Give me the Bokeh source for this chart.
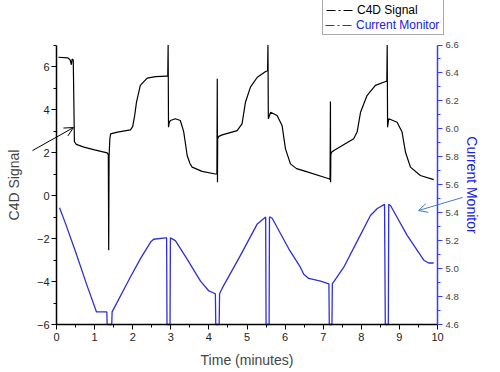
from bokeh.plotting import figure
from bokeh.models import (Range1d, LinearAxis, SingleIntervalTicker, FixedTicker,
                          NumeralTickFormatter, Legend, LegendItem, Arrow, OpenHead)
from bokeh.embed import file_html
from bokeh.resources import INLINE

# ---------------- data ----------------
time_c4d = [0.05, 0.30, 0.36, 0.39, 0.41, 0.44, 0.47, 0.52, 0.72, 1.00, 1.33,
            1.36, 1.37, 1.38, 1.40, 1.42, 1.60, 1.94, 2.00, 2.05, 2.10, 2.20, 2.38, 2.60, 2.90,
            2.92, 2.93, 2.94, 2.96, 2.99, 3.12, 3.25, 3.30, 3.34, 3.43, 3.50, 3.56, 3.82, 4.17,
            4.21, 4.22, 4.225, 4.23, 4.26, 4.35, 4.74, 4.87, 4.96, 5.09, 5.27, 5.49,
            5.54, 5.55, 5.56, 5.62, 5.79, 5.92, 6.01, 6.14, 6.30, 6.54, 7.15,
            7.18, 7.19, 7.195, 7.20, 7.22, 7.28, 7.80, 7.89, 7.98, 8.15, 8.37, 8.64,
            8.67, 8.68, 8.69, 8.72, 8.94, 9.07, 9.16, 9.29, 9.55, 9.90]
c4d_signal = [6.43, 6.40, 6.30, 6.08, 6.35, 6.30, 2.50, 2.38, 2.25, 2.12, 1.98,
              1.90, -2.55, 1.80, 2.64, 2.87, 2.95, 3.05, 3.20, 3.70, 4.34, 5.12, 5.46, 5.53, 5.55,
              5.55, 7.00, 3.18, 3.40, 3.49, 3.57, 3.49, 3.20, 2.95, 1.86, 1.50, 1.32, 1.12, 1.00,
              1.00, 5.43, 0.62, 2.64, 2.75, 2.82, 3.02, 3.33, 4.34, 5.04, 5.50, 5.77,
              5.80, 7.00, 3.57, 3.87, 3.72, 3.26, 2.17, 1.47, 1.25, 1.12, 0.78,
              0.75, 4.37, 0.62, 1.90, 2.01, 2.09, 2.64, 2.95, 3.87, 4.65, 5.12, 5.30,
              5.32, 7.00, 3.18, 3.57, 3.41, 2.95, 2.01, 1.32, 0.93, 0.74]

time_cm = [0.08, 0.24, 0.50, 0.80, 1.05, 1.31, 1.32, 1.33, 1.45, 1.46, 1.94, 2.20, 2.47, 2.55, 2.86,
           2.89, 2.90, 2.98, 2.99, 3.12, 3.40, 3.78, 4.00, 4.17, 4.18, 4.27, 4.28, 4.35, 4.80,
           5.27, 5.49, 5.50, 5.58, 5.59, 5.66, 6.10, 6.40, 6.49, 6.62, 6.93, 7.15, 7.16, 7.23,
           7.24, 7.54, 7.90, 8.24, 8.42, 8.61, 8.63, 8.71, 8.72, 8.77, 9.20, 9.64, 9.77, 9.90]
current_monitor = [5.435, 5.32, 5.12, 4.88, 4.69, 4.69, 4.69, 4.60, 4.60, 4.69, 4.94, 5.07, 5.19, 5.21, 5.22,
                   5.22, 4.60, 4.60, 5.22, 5.20, 5.08, 4.91, 4.84, 4.82, 4.60, 4.60, 4.82, 4.86, 5.08,
                   5.32, 5.37, 4.60, 4.60, 5.37, 5.36, 5.14, 5.01, 4.96, 4.93, 4.91, 4.89, 4.60, 4.60,
                   4.89, 5.01, 5.20, 5.38, 5.43, 5.46, 4.60, 4.60, 5.46, 5.45, 5.24, 5.06, 5.04, 5.04]

cm_ticks = [4.6, 4.8, 5.0, 5.2, 5.4, 5.6, 5.8, 6.0, 6.2, 6.4, 6.6]
cm_minor = [4.7, 4.9, 5.1, 5.3, 5.5, 5.7, 5.9, 6.1, 6.3, 6.5]

x_lim = (0, 10)
c4d_lim = (-6, 7)
cm_lim = (4.6, 6.6)

# annotation arrows (start_x, start_y, end_x, end_y) in time / C4D units
arrow_c4d = [-0.63, 2.09, 0.446, 3.16]
arrow_cm = [10.66, -0.09, 9.50, -0.70]

BLUE = "#2f2fd6"
AXBLUE = "#3b3bff"
ARROWBLUE = "#3f7fc4"
FONT = "Liberation Sans"
NAN = float("nan")

# ---------------- layout (pixels) ----------------
W, H = 498, 370
AX_L, AX_R, AX_T, AX_B = 56.0, 437.0, 44.5, 324.0   # where the axes sit

def extend(lim, lo_px, hi_px, span_px):
    # range that spans the whole canvas while lim sits between lo_px and hi_px
    per = (lim[1] - lim[0]) / span_px
    return Range1d(lim[0] - lo_px * per, lim[1] + hi_px * per)

xr = extend(x_lim, AX_L, W - AX_R, AX_R - AX_L)
yr = extend(c4d_lim, H - AX_B, AX_T, AX_B - AX_T)
cmr = extend(cm_lim, H - AX_B, AX_T, AX_B - AX_T)

p = figure(width=W, height=H, x_range=xr, y_range=yr,
           output_backend="svg", toolbar_location=None,
           min_border=0)
p.extra_y_ranges = {"cm": cmr}
p.outline_line_color = None
p.grid.visible = False

p.line(time_c4d, c4d_signal, color="black", line_width=1.2)
p.line(time_cm, current_monitor, color=BLUE, line_width=1.3, y_range_name="cm")

def style(ax, color, tick_color):
    ax.axis_line_color = color
    ax.axis_line_width = 1.5
    ax.major_tick_line_color = color
    ax.minor_tick_line_color = color
    ax.major_tick_out = 5
    ax.major_tick_in = 0
    ax.minor_tick_out = 3
    ax.minor_tick_in = 0
    ax.major_label_text_font = FONT
    ax.major_label_text_color = tick_color
    ax.axis_label_text_font = FONT
    ax.axis_label_text_font_style = "normal"
    ax.axis_label_text_font_size = "14px"

xa = p.xaxis[0]
xa.ticker = SingleIntervalTicker(interval=1, num_minor_ticks=2)
xa.fixed_location = c4d_lim[0]
xa.bounds = x_lim
xa.axis_label = "Time (minutes)"
style(xa, "black", "#222222")
xa.major_label_text_font_size = "11px"
xa.major_label_standoff = 3
xa.axis_label_standoff = 8

ya = p.yaxis[0]
ya.ticker = SingleIntervalTicker(interval=2, num_minor_ticks=2)
ya.fixed_location = x_lim[0]
ya.bounds = c4d_lim
ya.axis_label = "C4D Signal"
style(ya, "black", "#222222")
ya.major_label_text_font_size = "11px"
ya.major_label_standoff = 2
ya.axis_label_standoff = 12

ra = LinearAxis(y_range_name="cm", ticker=FixedTicker(ticks=cm_ticks, minor_ticks=cm_minor),
                formatter=NumeralTickFormatter(format="0.0"), axis_label="Current Monitor",
                fixed_location=x_lim[1], bounds=cm_lim)
style(ra, AXBLUE, "#444444")
ra.major_label_text_font_size = "9.5px"
ra.major_label_standoff = 3
ra.axis_label_standoff = 2
ra.axis_label_text_color = "#2020e0"
p.add_layout(ra, "right")

# legend (invisible dash-dot renderers used only for the legend glyphs)
d1 = p.line([NAN], [NAN], color="black", line_dash="9 3 2 3", line_width=1.2)
d2 = p.line([NAN], [NAN], color=BLUE, line_dash="9 3 2 3", line_width=1.2, y_range_name="cm")

common = dict(label_text_font=FONT, label_text_font_size="12px", label_height=14,
              glyph_height=14, glyph_width=28, label_standoff=3, spacing=0, margin=0,
              background_fill_color="white", background_fill_alpha=1.0)
legA = Legend(items=[LegendItem(label="C4D Signal", renderers=[d1]),
                     LegendItem(label="Current Monitor", renderers=[d2])],
              location=(322, H - 35), padding=3, border_line_color="#555555",
              border_line_width=1, label_text_color="black", **common)
legB = Legend(items=[LegendItem(label="Current Monitor", renderers=[d2])],
              location=(324, H - 33), padding=1, border_line_alpha=0,
              label_text_color="#2020e0", **common)
p.add_layout(legA)
p.add_layout(legB)

p.add_layout(Arrow(end=OpenHead(size=9, line_color="black", line_width=1),
                   x_start=arrow_c4d[0], y_start=arrow_c4d[1],
                   x_end=arrow_c4d[2], y_end=arrow_c4d[3],
                   line_color="black", line_width=1))
p.add_layout(Arrow(end=OpenHead(size=9, line_color=ARROWBLUE, line_width=1),
                   x_start=arrow_cm[0], y_start=arrow_cm[1],
                   x_end=arrow_cm[2], y_end=arrow_cm[3],
                   line_color=ARROWBLUE, line_width=1))

open("out.html", "w").write(file_html(p, INLINE))
